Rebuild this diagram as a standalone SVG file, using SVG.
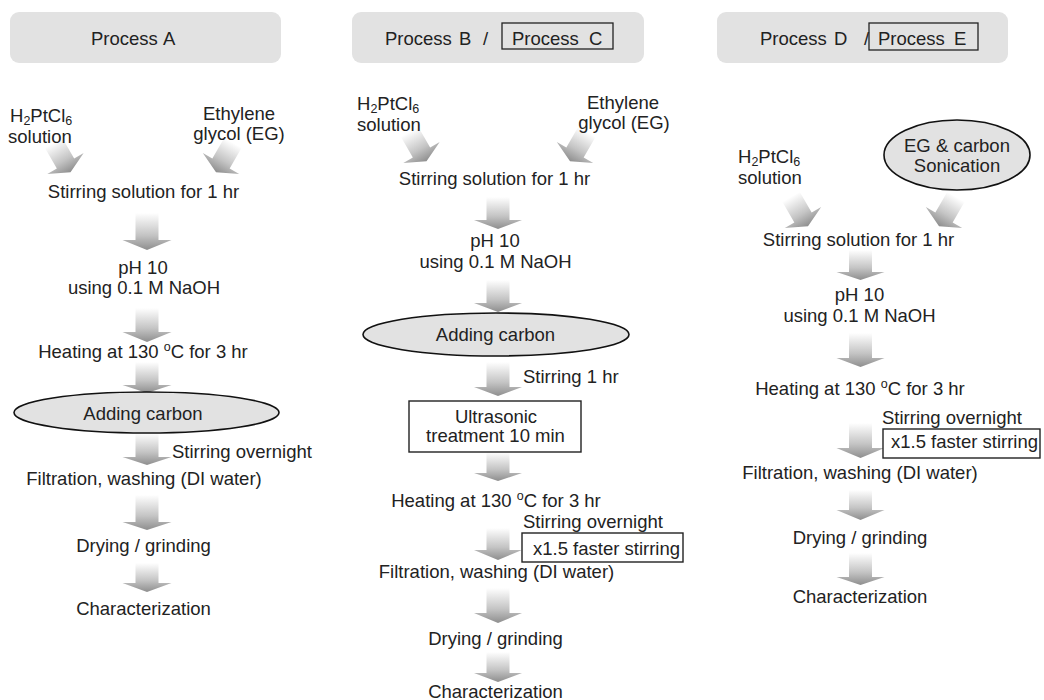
<svg xmlns="http://www.w3.org/2000/svg" width="1044" height="700" viewBox="0 0 1044 700">
<defs>
<style>
text{font-family:"Liberation Sans",Arial,sans-serif;font-size:18.5px;fill:#222}
.c{text-anchor:middle}
.hdr{fill:#e2e2e2}
.box{fill:none;stroke:#222;stroke-width:1.3}
.wbox{fill:#fff;stroke:#222;stroke-width:1.4}
.ell{fill:#e2e2e2;stroke:#111;stroke-width:1.6}
.arr{fill:url(#g)}
.sub{font-size:12.5px}
</style>
<linearGradient id="g" x1="0" y1="0" x2="0" y2="1">
<stop offset="0" stop-color="#ffffff"/>
<stop offset="0.6" stop-color="#c4c4c4"/>
<stop offset="1" stop-color="#8e8e8e"/>
</linearGradient>
<path id="diag" d="M-10,-24 H10 V0 H21 L0,10 L-21,0 H-10 Z"/>
</defs>

<g id="connectors">
<!-- Column A -->
<use href="#diag" class="arr" transform="translate(65.5,163.5) rotate(-30)"/>
<use href="#diag" class="arr" transform="translate(221,163.5) rotate(30)"/>
<path class="arr" d="M135.5,213 H158.5 V240 H171.5 L147,250 L122.5,240 H135.5 Z"/>
<path class="arr" d="M135.5,308 H158.5 V332 H171.5 L147,342 L122.5,332 H135.5 Z"/>
<path class="arr" d="M135.5,362 H158.5 V385 H171.5 L147,393 L122.5,385 H135.5 Z"/>
<path class="arr" d="M135.5,433 H158.5 V457 H171.5 L147,465 L122.5,457 H135.5 Z"/>
<path class="arr" d="M135.5,495 H158.5 V522 H171.5 L147,530 L122.5,522 H135.5 Z"/>
<path class="arr" d="M135.5,563 H158.5 V583 H171.5 L147,592 L122.5,583 H135.5 Z"/>
<!-- Column B -->
<use href="#diag" class="arr" transform="translate(421.5,152.5) rotate(-30)"/>
<use href="#diag" class="arr" transform="translate(575,152.5) rotate(30)"/>
<path class="arr" d="M486.5,197 H509.5 V220 H522 L498,229 L474,220 H486.5 Z"/>
<path class="arr" d="M486.5,280 H509.5 V303 H522 L498,312 L474,303 H486.5 Z"/>
<path class="arr" d="M486.5,362 H509.5 V387 H522 L498,396 L474,387 H486.5 Z"/>
<path class="arr" d="M486.5,452 H509.5 V473 H522 L498,481 L474,473 H486.5 Z"/>
<path class="arr" d="M486.5,528 H509.5 V550 H522 L498,560 L474,550 H486.5 Z"/>
<path class="arr" d="M486.5,588 H509.5 V613 H522 L498,623 L474,613 H486.5 Z"/>
<path class="arr" d="M486.5,652 H509.5 V673 H522 L498,682 L474,673 H486.5 Z"/>
<!-- Column D -->
<use href="#diag" class="arr" transform="translate(803,217.5) rotate(-30)"/>
<use href="#diag" class="arr" transform="translate(944,217.5) rotate(30)"/>
<path class="arr" d="M849,250 H872 V272 H884.5 L860.5,280 L836.5,272 H849 Z"/>
<path class="arr" d="M849,333 H872 V358 H884.5 L860.5,367 L836.5,358 H849 Z"/>
<path class="arr" d="M849,423 H872 V448 H884.5 L860.5,458 L836.5,448 H849 Z"/>
<path class="arr" d="M849,490 H872 V510 H884.5 L860.5,520 L836.5,510 H849 Z"/>
<path class="arr" d="M849,553 H872 V577 H884.5 L860.5,585 L836.5,577 H849 Z"/>
</g>

<!-- Headers -->
<g id="header-a">
<rect class="hdr" x="10" y="12" width="271" height="51" rx="9"/>
<text y="45"><tspan x="91">Process</tspan><tspan x="163">A</tspan></text>
</g>
<g id="header-bc">
<rect class="hdr" x="352" y="12" width="292" height="51" rx="9"/>
<text y="45"><tspan x="385">Process</tspan><tspan x="459">B</tspan><tspan x="483">/</tspan></text>
<rect class="box" x="502" y="23" width="111" height="26"/>
<text y="45"><tspan x="512">Process</tspan><tspan x="589">C</tspan></text>
</g>
<g id="header-de">
<rect class="hdr" x="717" y="12" width="291" height="51" rx="9"/>
<text y="45"><tspan x="760">Process</tspan><tspan x="834">D</tspan><tspan x="864">/</tspan></text>
<rect class="box" x="869" y="23" width="109" height="27"/>
<text y="45"><tspan x="878">Process</tspan><tspan x="954">E</tspan></text>
</g>

<!-- Column A nodes -->
<g id="a-h2ptcl6">
<text x="10" y="122">H<tspan class="sub" dy="3">2</tspan><tspan dy="-3">PtCl</tspan><tspan class="sub" dy="3">6</tspan></text>
<text x="8" y="143">solution</text>
</g>
<g id="a-eg">
<text class="c" x="239" y="120">Ethylene</text>
<text class="c" x="239" y="140">glycol (EG)</text>
</g>
<g id="a-stir"><text class="c" x="143.5" y="198">Stirring solution for 1 hr</text></g>
<g id="a-ph">
<text class="c" x="143" y="274">pH 10</text>
<text class="c" x="144" y="294">using 0.1 M NaOH</text>
</g>
<g id="a-heat"><text class="c" x="143" y="358">Heating at 130 <tspan font-size="12.5" dy="-7">o</tspan><tspan dy="7">C for 3 hr</tspan></text></g>
<g id="a-carbon">
<ellipse class="ell" cx="146.5" cy="412.5" rx="132.5" ry="20.5"/>
<text class="c" x="143" y="420">Adding carbon</text>
</g>
<g id="a-overnight"><text x="172" y="458">Stirring overnight</text></g>
<g id="a-filt"><text class="c" x="144" y="485">Filtration, washing (DI water)</text></g>
<g id="a-dry"><text class="c" x="143.5" y="552">Drying / grinding</text></g>
<g id="a-char"><text class="c" x="143.5" y="615">Characterization</text></g>

<!-- Column B nodes -->
<g id="b-h2ptcl6">
<text x="357" y="110">H<tspan class="sub" dy="3">2</tspan><tspan dy="-3">PtCl</tspan><tspan class="sub" dy="3">6</tspan></text>
<text x="357" y="131">solution</text>
</g>
<g id="b-eg">
<text class="c" x="623" y="109">Ethylene</text>
<text class="c" x="624" y="129">glycol (EG)</text>
</g>
<g id="b-stir"><text class="c" x="494.5" y="185">Stirring solution for 1 hr</text></g>
<g id="b-ph">
<text class="c" x="495" y="247">pH 10</text>
<text class="c" x="495.5" y="268">using 0.1 M NaOH</text>
</g>
<g id="b-carbon">
<ellipse class="ell" cx="496" cy="334.5" rx="133" ry="21.5"/>
<text class="c" x="495.5" y="341">Adding carbon</text>
</g>
<g id="b-stir1"><text x="523" y="383">Stirring 1 hr</text></g>
<g id="b-ultra">
<rect class="wbox" x="409" y="401" width="172" height="51"/>
<text class="c" x="496" y="423">Ultrasonic</text>
<text class="c" x="495.5" y="442">treatment 10 min</text>
</g>
<g id="b-heat"><text class="c" x="496" y="507">Heating at 130 <tspan font-size="12.5" dy="-7">o</tspan><tspan dy="7">C for 3 hr</tspan></text></g>
<g id="b-overnight"><text x="523" y="528">Stirring overnight</text></g>
<g id="b-faster">
<rect class="wbox" x="522" y="533" width="161" height="29"/>
<text x="533" y="555">x1.5 faster stirring</text>
</g>
<g id="b-filt"><text class="c" x="496.5" y="578">Filtration, washing (DI water)</text></g>
<g id="b-dry"><text class="c" x="495.5" y="645">Drying / grinding</text></g>
<g id="b-char"><text class="c" x="495.5" y="698">Characterization</text></g>

<!-- Column D nodes -->
<g id="d-h2ptcl6">
<text x="738" y="163">H<tspan class="sub" dy="3">2</tspan><tspan dy="-3">PtCl</tspan><tspan class="sub" dy="3">6</tspan></text>
<text x="738" y="184">solution</text>
</g>
<g id="d-egcarbon">
<ellipse class="ell" cx="957" cy="155" rx="73" ry="35"/>
<text class="c" x="957" y="152">EG &amp; carbon</text>
<text class="c" x="957" y="172">Sonication</text>
</g>
<g id="d-stir"><text class="c" x="858.5" y="246">Stirring solution for 1 hr</text></g>
<g id="d-ph">
<text class="c" x="859.5" y="301">pH 10</text>
<text class="c" x="859.5" y="322">using 0.1 M NaOH</text>
</g>
<g id="d-heat"><text class="c" x="860" y="395">Heating at 130 <tspan font-size="12.5" dy="-7">o</tspan><tspan dy="7">C for 3 hr</tspan></text></g>
<g id="d-overnight"><text x="882" y="424">Stirring overnight</text></g>
<g id="d-faster">
<rect class="wbox" x="883" y="429" width="157" height="29"/>
<text x="891" y="448">x1.5 faster stirring</text>
</g>
<g id="d-filt"><text class="c" x="860" y="479">Filtration, washing (DI water)</text></g>
<g id="d-dry"><text class="c" x="860" y="544">Drying / grinding</text></g>
<g id="d-char"><text class="c" x="860" y="603">Characterization</text></g>
</svg>
